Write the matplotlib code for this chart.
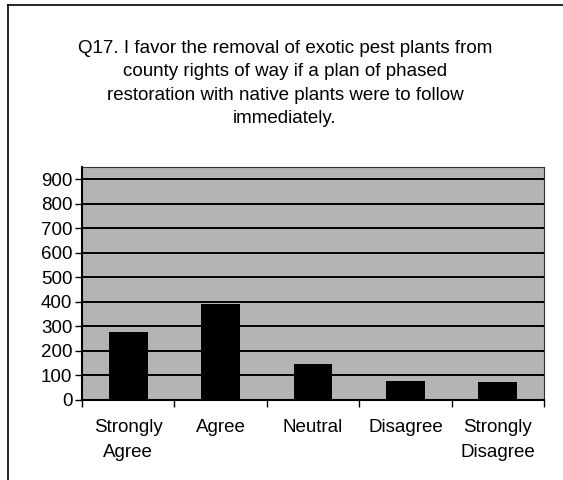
import numpy as np
import matplotlib.pyplot as plt
from matplotlib.lines import Line2D

# Данные опроса
categories = ['Strongly\nAgree', 'Agree', 'Neutral', 'Disagree', 'Strongly\nDisagree']
counts = [276, 392, 147, 79, 75]
y_ticks = [0, 100, 200, 300, 400, 500, 600, 700, 800, 900]

title_text = ('Q17. I favor the removal of exotic pest plants from\n'
              'county rights of way if a plan of phased\n'
              'restoration with native plants were to follow\n'
              'immediately.')

plt.rcParams['font.family'] = ['Liberation Sans', 'DejaVu Sans']

fig = plt.figure(figsize=(5.63, 4.8), dpi=100)
ax = fig.add_axes([0.1456, 0.1667, 0.8207, 0.4853])

x = np.arange(len(categories))
ax.set_facecolor('#b4b4b4')
ax.bar(x, counts, width=0.42, color='black', zorder=3)

# Настройка осей
ax.set_xlim(-0.5, len(categories) - 0.5)
ax.set_ylim(0, 950)
ax.set_yticks(y_ticks)
ax.set_yticklabels([str(v) for v in y_ticks], fontsize=13.5)
ax.yaxis.grid(True, color='black', linewidth=1.4, zorder=1)
ax.set_axisbelow(True)

ax.set_xticks(x)
ax.set_xticklabels(categories, fontsize=13.5, linespacing=1.6)
ax.tick_params(axis='x', length=0, pad=14)
ax.set_xticks(np.arange(len(categories) + 1) - 0.5, minor=True)
ax.tick_params(axis='x', which='minor', length=5, width=1, color='black')
ax.tick_params(axis='y', length=5, width=1, pad=2)

for side in ['top', 'right']:
    ax.spines[side].set_color('#333333')
    ax.spines[side].set_linewidth(0.8)
ax.spines['left'].set_linewidth(1.5)
ax.spines['bottom'].set_linewidth(1.5)

# Заголовок
fig.text(0.506, 0.826, title_text, ha='center', va='center', fontsize=13.5,
         linespacing=1.48)

# Рамка рисунка (слева и сверху)
fig.add_artist(Line2D([8 / 563, 8 / 563], [0, 1 - 5 / 480],
                      transform=fig.transFigure, color='black', linewidth=1.2))
fig.add_artist(Line2D([8 / 563, 1], [1 - 5 / 480, 1 - 5 / 480],
                      transform=fig.transFigure, color='black', linewidth=1.2))

fig.savefig('out.png', dpi=100)
